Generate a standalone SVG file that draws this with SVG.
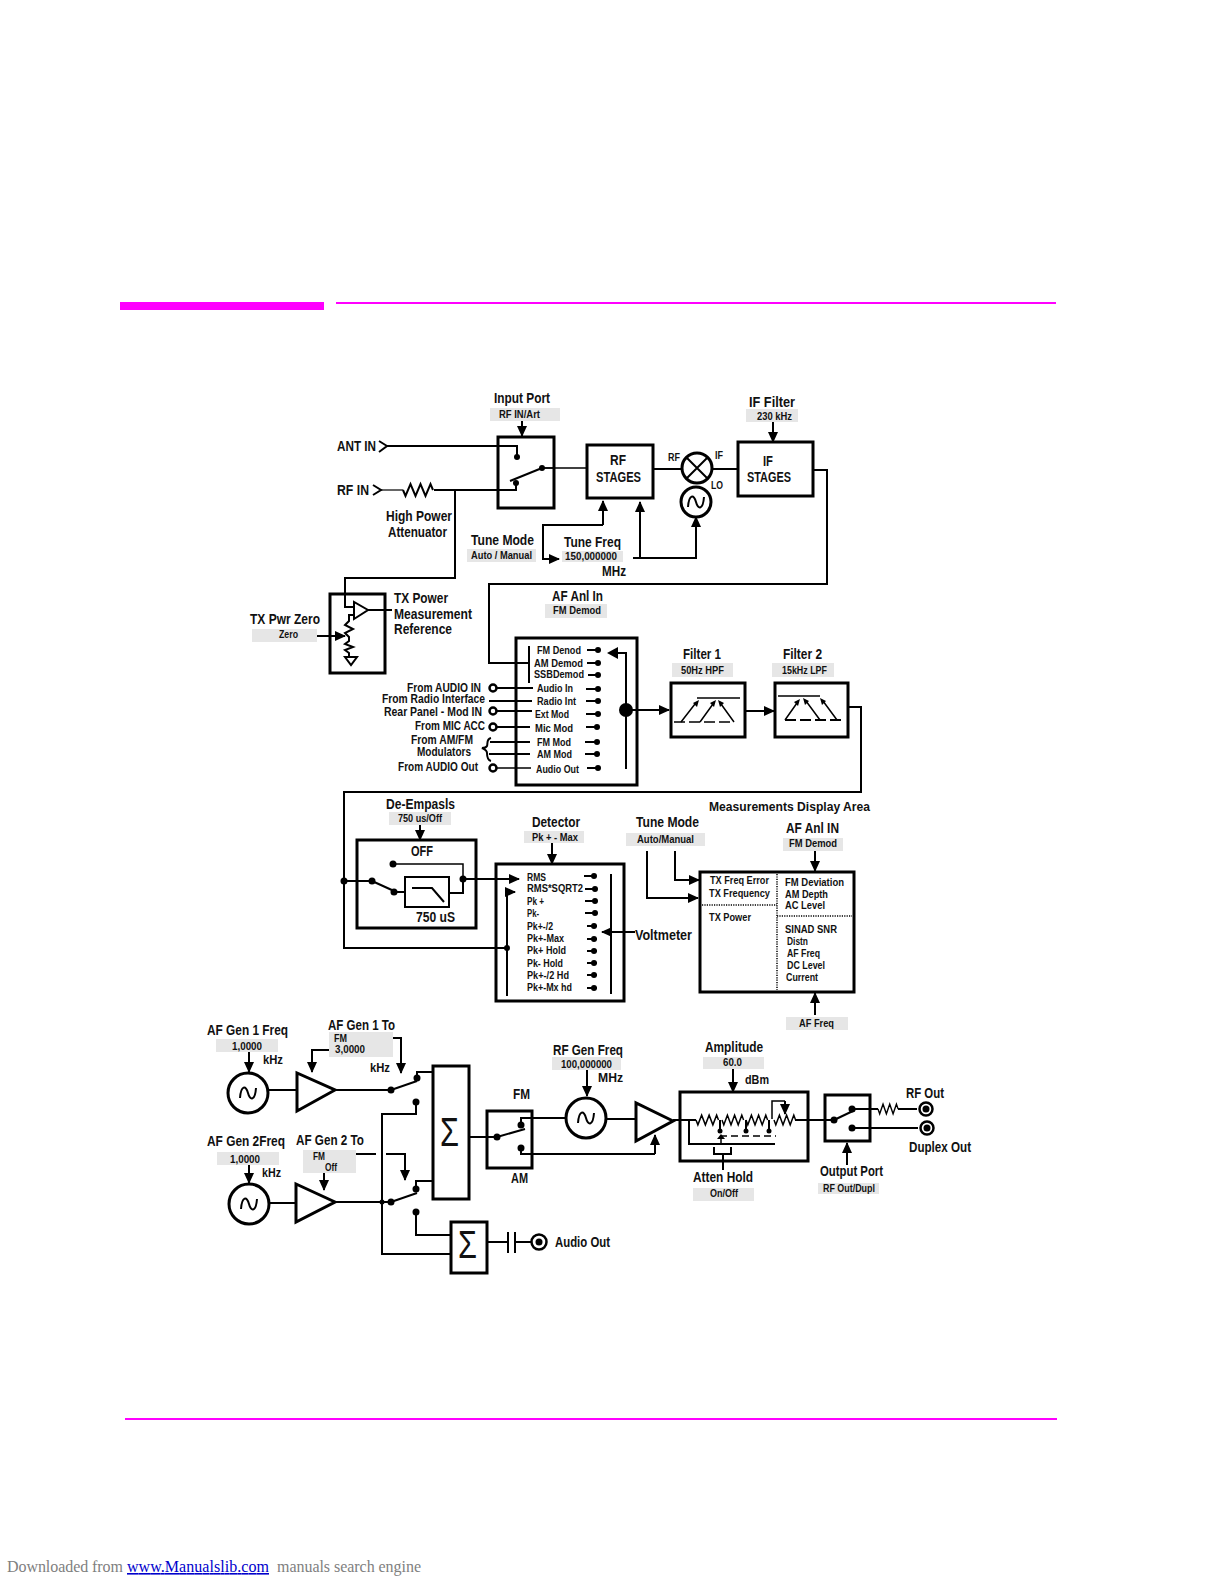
<svg xmlns="http://www.w3.org/2000/svg" xmlns:xlink="http://www.w3.org/1999/xlink" width="1224" height="1584" viewBox="0 0 1224 1584">
<style>
text{font-family:"Liberation Sans",Arial,sans-serif;font-weight:bold;fill:#111}
.h{font-size:14px}
.m{font-size:12px}
.s{font-size:10px}
.t{font-size:10.5px}
.f{font-family:"Liberation Serif","Times New Roman",serif;font-weight:normal;font-size:16px;fill:#808080}
.chip{fill:#e6e6e6;stroke:none}
.box{fill:none;stroke:#000;stroke-width:3}
.w{fill:none;stroke:#000;stroke-width:2}
.w1{fill:none;stroke:#000;stroke-width:1.5}
.a{fill:none;stroke:#000;stroke-width:2;marker-end:url(#ah)}
.dd{fill:none;stroke:#000;stroke-width:1.5;stroke-dasharray:1.2 1.2}
circle{fill:#000}
.o{fill:none;stroke:#000;stroke-width:3}
.tri{fill:#fff;stroke:#000;stroke-width:3;stroke-linejoin:miter}
.j{fill:#fff;stroke:#000;stroke-width:2.5}
</style>
<defs>
<marker id="ah" markerUnits="userSpaceOnUse" markerWidth="12" markerHeight="12" refX="10" refY="5.5" orient="auto"><path d="M0 0.5L11 5.5L0 10.5z" fill="#000"/></marker>
<path id="res" d="M0 0l2.5 6 5-12 5 12 5-12 5 12 5-12 2.5 6" fill="none" stroke="#000" stroke-width="2"/>
<path id="sine" d="M-8 5C-7 -8 -2 -8 0 0C2 8 7 8 8 -5" fill="none" stroke="#000" stroke-width="2"/>
</defs>
<rect width="1224" height="1584" fill="#fff"/>

<g id="page-rules">
<rect x="120" y="302" width="204" height="8" fill="#ff00ff"/>
<rect x="336" y="302" width="720" height="2" fill="#ff00ff"/>
<rect x="125" y="1418" width="932" height="2" fill="#ff00ff"/>
</g>

<g id="connectors">
<path class="w" d="M387 446H517V457"/>
<path class="w" style="stroke:#666" d="M381 490H403"/>
<path class="w" d="M434 490H516V483"/>
<path class="w" d="M455 490V578H345V607H354"/>
<path class="w1" d="M542 468H587"/>
<path class="w" d="M653 469H682"/>
<path class="w" d="M712 469H738"/>
<path class="w" d="M813 470H827V584H489V663H529"/>
<path class="a" d="M522 421V436"/>
<path class="a" d="M773 422V442"/>
<path class="a" d="M603 525V501"/>
<path class="a" d="M603 525H543V559H559"/>
<path class="a" d="M633 558H696V517"/>
<path class="a" d="M640 558V502"/>
<path class="a" d="M317 636H345"/>
<path class="w" d="M368 610H392"/>
<path class="w" d="M493 688H533"/>
<path class="w" d="M489 701H532"/>
<path class="w" d="M493 711H532"/>
<path class="w" d="M493 727H530"/>
<path class="w" d="M490 742H530"/>
<path class="w" d="M489 754H530"/>
<path class="w1" d="M493 768H531"/>
<path class="a" d="M626 710H669"/>
<path class="a" d="M745 711H774"/>
<path class="w" d="M848 707H861V792H344V948H507"/>
<path class="a" d="M507 996V892H515"/>
<path class="w" d="M344 881H372"/>
<path class="a" d="M463 879H519"/>
<path class="a" d="M420 825V840"/>
<path class="a" d="M552 843V864"/>
<path class="a" d="M647 851V898H698"/>
<path class="a" d="M675 851V880H699"/>
<path class="a" d="M815 851V871"/>
<path class="a" d="M815 1015V993"/>
<path class="a" d="M635 932H602"/>
<path class="a" d="M249 1052V1072"/>
<path class="a" d="M329 1050H312V1072"/>
<path class="a" d="M393 1038H401V1073"/>
<path class="w" d="M268 1090H297"/>
<path class="w" d="M335 1090H391"/>
<path class="w" d="M417 1078V1072H433"/>
<path class="w" d="M416 1102V1114H382V1254H451"/>
<path class="a" d="M249 1165V1183"/>
<path class="a" d="M324 1173V1190"/>
<path class="w" d="M353 1154H376"/>
<path class="a" d="M386 1154H405V1180"/>
<path class="w" d="M269 1203H296"/>
<path class="w" d="M335 1202H391"/>
<path class="w" d="M416 1189V1181H433"/>
<path class="w" d="M416 1212V1235H451"/>
<path class="w" d="M487 1242H508"/>
<path class="w" d="M515 1242H531"/>
<path class="w" d="M469 1137H497"/>
<path class="w" d="M521 1125V1118H566"/>
<path class="w" d="M521 1148V1154H655"/>
<path class="a" d="M655 1154V1135"/>
<path class="a" d="M587 1065V1096"/>
<path class="w" d="M606 1119H636"/>
<path class="a" d="M733 1069V1092"/>
<path class="w" d="M673 1120H696"/>
<path class="w" d="M795 1120H834"/>
<path class="a" d="M847 1165V1143"/>
<path class="w" d="M723 1154V1170"/>
<path class="w" d="M852 1109H878"/>
<path class="w" d="M898 1109H917"/>
<path class="w" d="M852 1128H918"/>
</g>

<g id="input-port">
<text class="h" x="494" y="403" textLength="56" lengthAdjust="spacingAndGlyphs">Input Port</text>
<rect class="chip" x="490" y="408" width="70" height="13"/>
<text class="s" x="499" y="418" textLength="41" lengthAdjust="spacingAndGlyphs">RF IN/Art</text>
</g>
<g id="ant-in">
<text class="h" x="337" y="451" textLength="39" lengthAdjust="spacingAndGlyphs">ANT IN</text>
<path class="w" d="M379 441L387 446L379 452"/>
</g>
<g id="rf-in">
<text class="h" x="337" y="495" textLength="32" lengthAdjust="spacingAndGlyphs">RF IN</text>
<path class="w" d="M373 485L381 490L373 495"/>
<use href="#res" xlink:href="#res" transform="translate(403 490)"/>
<text class="h" x="386" y="521" textLength="66" lengthAdjust="spacingAndGlyphs">High Power</text>
<text class="h" x="388" y="537" textLength="59" lengthAdjust="spacingAndGlyphs">Attenuator</text>
</g>
<g id="input-switch">
<rect class="box" x="498" y="437" width="56" height="71"/>
<path class="w" d="M510 481L542 468"/>
<circle cx="517" cy="457" r="3"/><circle cx="516" cy="483" r="3"/><circle cx="542" cy="468" r="3"/>
<path class="w1" d="M542 468H554"/>
</g>
<g id="rf-stages">
<rect class="box" x="587" y="445" width="66" height="53"/>
<text class="h" x="610" y="465" textLength="16" lengthAdjust="spacingAndGlyphs">RF</text>
<text class="h" x="596" y="482" textLength="45" lengthAdjust="spacingAndGlyphs">STAGES</text>
</g>
<g id="mixer">
<text class="s" x="668" y="461" textLength="12" lengthAdjust="spacingAndGlyphs">RF</text>
<text class="s" x="715" y="459" textLength="8" lengthAdjust="spacingAndGlyphs">IF</text>
<text class="s" x="711" y="489" textLength="12" lengthAdjust="spacingAndGlyphs">LO</text>
<circle class="o" cx="697" cy="468" r="15"/>
<path class="w" d="M686 457L708 479M708 457L686 479"/>
<circle class="o" cx="696" cy="502" r="15"/>
<use href="#sine" xlink:href="#sine" transform="translate(696 502)"/>
</g>
<g id="if-stages">
<rect class="box" x="738" y="442" width="75" height="54"/>
<text class="h" x="763" y="466" textLength="10" lengthAdjust="spacingAndGlyphs">IF</text>
<text class="h" x="747" y="482" textLength="44" lengthAdjust="spacingAndGlyphs">STAGES</text>
</g>
<g id="if-filter">
<text class="h" x="749" y="407" textLength="46" lengthAdjust="spacingAndGlyphs">IF Filter</text>
<rect class="chip" x="746" y="409" width="52" height="13"/>
<text class="s" x="757" y="420" textLength="35" lengthAdjust="spacingAndGlyphs">230 kHz</text>
</g>
<g id="tune">
<text class="h" x="471" y="545" textLength="63" lengthAdjust="spacingAndGlyphs">Tune Mode</text>
<rect class="chip" x="467" y="549" width="69" height="13"/>
<text class="s" x="471" y="559" textLength="61" lengthAdjust="spacingAndGlyphs">Auto / Manual</text>
<text class="h" x="564" y="547" textLength="57" lengthAdjust="spacingAndGlyphs">Tune Freq</text>
<rect class="chip" x="562" y="551" width="61" height="11"/>
<text class="s" x="565" y="560" textLength="52" lengthAdjust="spacingAndGlyphs">150,000000</text>
<text class="h" x="602" y="576" textLength="24" lengthAdjust="spacingAndGlyphs">MHz</text>
</g>
<g id="tx-power">
<rect class="box" x="330" y="594" width="55" height="79"/>
<path class="tri" style="stroke-width:2" d="M354 602V619L368 610z"/>
<path class="w" d="M354 615H349V621l-4 4 8 4-8 4 4 4V641l-4 3 8 3-8 3 4 3V657"/>
<path class="w" d="M345 657H357L351 665z"/>
<text class="h" x="394" y="603" textLength="54" lengthAdjust="spacingAndGlyphs">TX Power</text>
<text class="h" x="394" y="619" textLength="78" lengthAdjust="spacingAndGlyphs">Measurement</text>
<text class="h" x="394" y="634" textLength="58" lengthAdjust="spacingAndGlyphs">Reference</text>
<text class="h" x="250" y="624" textLength="70" lengthAdjust="spacingAndGlyphs">TX Pwr Zero</text>
<rect class="chip" x="252" y="629" width="65" height="13"/>
<text class="s" x="279" y="638" textLength="19" lengthAdjust="spacingAndGlyphs">Zero</text>
</g>
<g id="af-anl-in">
<text class="h" x="552" y="601" textLength="51" lengthAdjust="spacingAndGlyphs">AF Anl In</text>
<rect class="chip" x="545" y="604" width="62" height="14"/>
<text class="s" x="553" y="614" textLength="48" lengthAdjust="spacingAndGlyphs">FM Demod</text>
</g>
<g id="source-select">
<rect class="box" x="516" y="638" width="121" height="147"/>
<path class="w" d="M529 646V683"/>
<path class="w" d="M626 769V653H618"/>
<path d="M618 647L607 653L618 659z"/>
<circle cx="626" cy="710" r="7"/>
<text class="t" x="537" y="654" textLength="44" lengthAdjust="spacingAndGlyphs">FM Denod</text>
<text class="t" x="534" y="667" textLength="49" lengthAdjust="spacingAndGlyphs">AM Demod</text>
<text class="t" x="534" y="678" textLength="50" lengthAdjust="spacingAndGlyphs">SSBDemod</text>
<text class="t" x="537" y="692" textLength="36" lengthAdjust="spacingAndGlyphs">Audio In</text>
<text class="t" x="537" y="705" textLength="39" lengthAdjust="spacingAndGlyphs">Radio Int</text>
<text class="t" x="535" y="718" textLength="34" lengthAdjust="spacingAndGlyphs">Ext Mod</text>
<text class="t" x="535" y="732" textLength="38" lengthAdjust="spacingAndGlyphs">Mic Mod</text>
<text class="t" x="537" y="746" textLength="34" lengthAdjust="spacingAndGlyphs">FM Mod</text>
<text class="t" x="537" y="758" textLength="35" lengthAdjust="spacingAndGlyphs">AM Mod</text>
<text class="t" x="536" y="773" textLength="43" lengthAdjust="spacingAndGlyphs">Audio Out</text>
<path class="w" d="M587 650H598M587 663H598M588 675H598M586 689H598M586 701H598M586 714H598M586 727H597M585 742H597M585 754H597M587 768H598"/>
<circle cx="598" cy="650" r="3"/><circle cx="598" cy="663" r="3"/><circle cx="598" cy="675" r="3"/><circle cx="598" cy="689" r="3"/><circle cx="598" cy="701" r="3"/><circle cx="598" cy="714" r="3"/><circle cx="597" cy="727" r="3"/><circle cx="597" cy="742" r="3"/><circle cx="597" cy="754" r="3"/><circle cx="598" cy="768" r="3"/>
</g>
<g id="external-sources">
<text class="m" x="407" y="692" textLength="74" lengthAdjust="spacingAndGlyphs">From AUDIO IN</text>
<text class="m" x="382" y="703" textLength="103" lengthAdjust="spacingAndGlyphs">From Radio Interface</text>
<text class="m" x="384" y="716" textLength="98" lengthAdjust="spacingAndGlyphs">Rear Panel - Mod IN</text>
<text class="m" x="415" y="730" textLength="70" lengthAdjust="spacingAndGlyphs">From MIC ACC</text>
<text class="m" x="411" y="744" textLength="62" lengthAdjust="spacingAndGlyphs">From AM/FM</text>
<text class="m" x="417" y="756" textLength="54" lengthAdjust="spacingAndGlyphs">Modulators</text>
<text class="m" x="398" y="771" textLength="80" lengthAdjust="spacingAndGlyphs">From AUDIO Out</text>
<circle class="j" cx="493" cy="688" r="3.5"/><circle class="j" cx="493" cy="711" r="3.5"/><circle class="j" cx="493" cy="727" r="3.5"/><circle class="j" cx="493" cy="768" r="3.5"/>
<path class="w" d="M491 738C486 739 488 744 487 746C486 748 484 748 482 748C484 749 487 750 487 753C487 756 487 760 491 761"/>
</g>
<g id="filter-1">
<text class="h" x="683" y="659" textLength="38" lengthAdjust="spacingAndGlyphs">Filter 1</text>
<rect class="chip" x="672" y="663" width="61" height="14"/>
<text class="s" x="681" y="674" textLength="43" lengthAdjust="spacingAndGlyphs">50Hz HPF</text>
<rect class="box" x="671" y="683" width="74" height="54"/>
<path class="w1" d="M697 698H740"/>
<path class="w1" stroke-dasharray="11 4" d="M674 722H734"/>
<path class="w1" d="M681 722L695 704M700 722L713 704M734 722L721 704"/>
<path d="M699 700L693 703L697 707z"/><path d="M716 700L710 703L714 707z"/><path d="M718 700L724 703L720 707z"/>
</g>
<g id="filter-2">
<text class="h" x="783" y="659" textLength="39" lengthAdjust="spacingAndGlyphs">Filter 2</text>
<rect class="chip" x="772" y="663" width="62" height="14"/>
<text class="s" x="782" y="674" textLength="45" lengthAdjust="spacingAndGlyphs">15kHz LPF</text>
<rect class="box" x="775" y="683" width="73" height="54"/>
<path class="w1" d="M778 696H820"/>
<path class="w" stroke-dasharray="11 4" d="M785 720H844"/>
<path class="w1" d="M785 720L797 703M820 720L806 701M837 720L823 701"/>
<path d="M800 699L794 702L798 706z"/><path d="M803 698L809 701L805 705z"/><path d="M820 698L826 701L822 705z"/>
</g>
<g id="de-emphasis">
<text class="h" x="386" y="809" textLength="69" lengthAdjust="spacingAndGlyphs">De-Empasls</text>
<rect class="chip" x="389" y="812" width="62" height="13"/>
<text class="s" x="398" y="822" textLength="44" lengthAdjust="spacingAndGlyphs">750 us/Off</text>
<rect class="box" x="357" y="840" width="119" height="88"/>
<text class="h" x="411" y="856" textLength="22" lengthAdjust="spacingAndGlyphs">OFF</text>
<text class="h" x="416" y="922" textLength="39" lengthAdjust="spacingAndGlyphs">750 uS</text>
<rect class="box" x="405" y="877" width="44" height="30" style="stroke-width:2"/>
<path class="w" d="M412 888H432L444 902"/>
<path class="w" d="M372 881L394 891V892H405"/>
<path class="w" d="M449 893H463V879"/>
<path class="w1" d="M393 864H463V879"/>
<circle cx="344" cy="881" r="3.5"/><circle cx="372" cy="881" r="3.5"/><circle cx="394" cy="892" r="3.5"/><circle cx="393" cy="864" r="3.5"/><circle cx="463" cy="879" r="3.5"/>
</g>
<g id="detector">
<text class="h" x="532" y="827" textLength="48" lengthAdjust="spacingAndGlyphs">Detector</text>
<rect class="chip" x="524" y="831" width="60" height="12"/>
<text class="s" x="532" y="841" textLength="46" lengthAdjust="spacingAndGlyphs">Pk + -  Max</text>
<rect class="box" x="496" y="864" width="128" height="137"/>
<circle cx="507" cy="948" r="3"/>
<path class="w" d="M611 874V994"/>
<text class="s" x="527" y="881" textLength="19" lengthAdjust="spacingAndGlyphs">RMS</text>
<text class="s" x="527" y="892" textLength="56" lengthAdjust="spacingAndGlyphs">RMS*SQRT2</text>
<text class="s" x="527" y="905" textLength="17" lengthAdjust="spacingAndGlyphs">Pk +</text>
<text class="s" x="527" y="917" textLength="12" lengthAdjust="spacingAndGlyphs">Pk-</text>
<text class="s" x="527" y="930" textLength="26" lengthAdjust="spacingAndGlyphs">Pk+-/2</text>
<text class="s" x="527" y="942" textLength="37" lengthAdjust="spacingAndGlyphs">Pk+-Max</text>
<text class="s" x="527" y="954" textLength="39" lengthAdjust="spacingAndGlyphs">Pk+ Hold</text>
<text class="s" x="527" y="967" textLength="36" lengthAdjust="spacingAndGlyphs">Pk- Hold</text>
<text class="s" x="527" y="979" textLength="42" lengthAdjust="spacingAndGlyphs">Pk+-/2 Hd</text>
<text class="s" x="527" y="991" textLength="45" lengthAdjust="spacingAndGlyphs">Pk+-Mx hd</text>
<path class="w" d="M584 876H594M585 889H595M585 901H595M585 913H595M587 926H597M587 939H597M587 951H597M587 963H597M587 975H597M587 988H597"/>
<circle cx="594" cy="876" r="3"/><circle cx="595" cy="889" r="3"/><circle cx="595" cy="901" r="3"/><circle cx="595" cy="913" r="3"/><circle cx="594" cy="926" r="3"/><circle cx="594" cy="939" r="3"/><circle cx="594" cy="951" r="3"/><circle cx="594" cy="963" r="3"/><circle cx="594" cy="975" r="3"/><circle cx="594" cy="988" r="3"/>
<text class="h" x="635" y="940" textLength="57" lengthAdjust="spacingAndGlyphs">Voltmeter</text>
</g>
<g id="measurements">
<text class="m" x="709" y="811" textLength="161" lengthAdjust="spacingAndGlyphs">Measurements Display Area</text>
<text class="h" x="636" y="827" textLength="63" lengthAdjust="spacingAndGlyphs">Tune Mode</text>
<rect class="chip" x="626" y="833" width="79" height="13"/>
<text class="s" x="637" y="843" textLength="57" lengthAdjust="spacingAndGlyphs">Auto/Manual</text>
<text class="h" x="786" y="833" textLength="53" lengthAdjust="spacingAndGlyphs">AF Anl IN</text>
<rect class="chip" x="783" y="838" width="60" height="13"/>
<text class="s" x="789" y="847" textLength="48" lengthAdjust="spacingAndGlyphs">FM Demod</text>
<rect class="box" x="700" y="872" width="154" height="120"/>
<path class="dd" d="M777 874V990"/>
<path class="dd" d="M702 905H777"/>
<path class="dd" d="M777 916H852"/>
<text class="s" x="710" y="884" textLength="59" lengthAdjust="spacingAndGlyphs">TX Freq Error</text>
<text class="s" x="709" y="897" textLength="61" lengthAdjust="spacingAndGlyphs">TX Frequency</text>
<text class="s" x="709" y="921" textLength="42" lengthAdjust="spacingAndGlyphs">TX Power</text>
<text class="s" x="785" y="886" textLength="59" lengthAdjust="spacingAndGlyphs">FM Deviation</text>
<text class="s" x="785" y="898" textLength="43" lengthAdjust="spacingAndGlyphs">AM Depth</text>
<text class="s" x="785" y="909" textLength="40" lengthAdjust="spacingAndGlyphs">AC Level</text>
<text class="s" x="785" y="933" textLength="52" lengthAdjust="spacingAndGlyphs">SINAD SNR</text>
<text class="s" x="787" y="945" textLength="21" lengthAdjust="spacingAndGlyphs">Distn</text>
<text class="s" x="787" y="957" textLength="33" lengthAdjust="spacingAndGlyphs">AF Freq</text>
<text class="s" x="787" y="969" textLength="38" lengthAdjust="spacingAndGlyphs">DC Level</text>
<text class="s" x="786" y="981" textLength="32" lengthAdjust="spacingAndGlyphs">Current</text>
<rect class="chip" x="786" y="1017" width="62" height="13"/>
<text class="s" x="799" y="1027" textLength="35" lengthAdjust="spacingAndGlyphs">AF Freq</text>
</g>
<g id="af-gen-1">
<text class="h" x="207" y="1035" textLength="81" lengthAdjust="spacingAndGlyphs">AF Gen 1 Freq</text>
<rect class="chip" x="216" y="1039" width="62" height="13"/>
<text class="s" x="232" y="1050" textLength="30" lengthAdjust="spacingAndGlyphs">1,0000</text>
<text class="m" x="263" y="1064" textLength="20" lengthAdjust="spacingAndGlyphs">kHz</text>
<circle class="o" cx="248" cy="1093" r="20"/>
<use href="#sine" xlink:href="#sine" transform="translate(248 1093)"/>
<text class="h" x="328" y="1030" textLength="67" lengthAdjust="spacingAndGlyphs">AF Gen 1 To</text>
<rect class="chip" x="329" y="1032" width="64" height="25"/>
<text class="s" x="334" y="1042" textLength="13" lengthAdjust="spacingAndGlyphs">FM</text>
<text class="s" x="335" y="1053" textLength="30" lengthAdjust="spacingAndGlyphs">3,0000</text>
<text class="m" x="370" y="1072" textLength="20" lengthAdjust="spacingAndGlyphs">kHz</text>
<path class="tri" d="M297 1073V1111L335 1090z"/>
<path class="w" d="M391 1090L417 1081"/>
<circle cx="391" cy="1090" r="3.5"/><circle cx="417" cy="1078" r="3.5"/><circle cx="416" cy="1102" r="3.5"/>
</g>
<g id="af-gen-2">
<text class="h" x="207" y="1146" textLength="78" lengthAdjust="spacingAndGlyphs">AF Gen 2Freq</text>
<rect class="chip" x="217" y="1152" width="62" height="13"/>
<text class="s" x="230" y="1163" textLength="30" lengthAdjust="spacingAndGlyphs">1,0000</text>
<text class="m" x="262" y="1177" textLength="19" lengthAdjust="spacingAndGlyphs">kHz</text>
<circle class="o" cx="249" cy="1204" r="20"/>
<use href="#sine" xlink:href="#sine" transform="translate(249 1204)"/>
<text class="h" x="296" y="1145" textLength="68" lengthAdjust="spacingAndGlyphs">AF Gen 2 To</text>
<rect class="chip" x="303" y="1150" width="53" height="23"/>
<text class="s" x="313" y="1160" textLength="12" lengthAdjust="spacingAndGlyphs">FM</text>
<text class="s" x="325" y="1171" textLength="12" lengthAdjust="spacingAndGlyphs">Off</text>
<path class="tri" d="M296 1184V1222L335 1202z"/>
<path class="w" d="M391 1202L417 1193"/>
<circle cx="382" cy="1202" r="2.5"/><circle cx="391" cy="1202" r="3.5"/><circle cx="416" cy="1189" r="3.5"/><circle cx="416" cy="1212" r="3.5"/>
</g>
<g id="sum-1">
<rect class="box" x="433" y="1066" width="36" height="133"/>
<text x="440" y="1146" style="font-size:40px;font-weight:normal" textLength="19" lengthAdjust="spacingAndGlyphs">Σ</text>
</g>
<g id="sum-2">
<rect class="box" x="451" y="1222" width="36" height="51"/>
<text x="458" y="1258" style="font-size:38px;font-weight:normal" textLength="19" lengthAdjust="spacingAndGlyphs">Σ</text>
</g>
<g id="audio-out">
<path class="w" d="M508 1232V1253M515 1232V1253"/>
<circle class="j" cx="539" cy="1242" r="7.5"/><circle cx="539" cy="1242" r="3.5"/>
<text class="h" x="555" y="1247" textLength="55" lengthAdjust="spacingAndGlyphs">Audio Out</text>
</g>
<g id="fm-am-switch">
<rect class="box" x="487" y="1111" width="45" height="57"/>
<text class="h" x="513" y="1099" textLength="17" lengthAdjust="spacingAndGlyphs">FM</text>
<text class="h" x="511" y="1183" textLength="17" lengthAdjust="spacingAndGlyphs">AM</text>
<path class="w" d="M497 1137L525 1129"/>
<circle cx="497" cy="1137" r="3.5"/><circle cx="521" cy="1125" r="3.5"/><circle cx="521" cy="1148" r="3.5"/>
</g>
<g id="rf-gen">
<text class="h" x="553" y="1055" textLength="70" lengthAdjust="spacingAndGlyphs">RF Gen Freq</text>
<rect class="chip" x="552" y="1057" width="69" height="13"/>
<text class="s" x="561" y="1068" textLength="51" lengthAdjust="spacingAndGlyphs">100,000000</text>
<text class="m" x="598" y="1082" textLength="25" lengthAdjust="spacingAndGlyphs">MHz</text>
<circle class="o" cx="586" cy="1118" r="20"/>
<use href="#sine" xlink:href="#sine" transform="translate(586 1118)"/>
<path class="tri" d="M636 1103V1141L673 1121z"/>
</g>
<g id="attenuator">
<text class="h" x="705" y="1052" textLength="58" lengthAdjust="spacingAndGlyphs">Amplitude</text>
<rect class="chip" x="703" y="1057" width="61" height="12"/>
<text class="s" x="723" y="1066" textLength="19" lengthAdjust="spacingAndGlyphs">60.0</text>
<text class="m" x="745" y="1084" textLength="24" lengthAdjust="spacingAndGlyphs">dBm</text>
<rect class="box" x="680" y="1092" width="128" height="69"/>
<use href="#res" xlink:href="#res" transform="translate(696 1120) scale(.75 .8)"/>
<use href="#res" xlink:href="#res" transform="translate(722 1120) scale(.72 .8)"/>
<use href="#res" xlink:href="#res" transform="translate(746 1120) scale(.72 .8)"/>
<use href="#res" xlink:href="#res" transform="translate(774 1120) scale(.72 .8)"/>
<path class="w" d="M720 1120V1131M746 1120V1131M769 1120V1131"/>
<circle cx="720" cy="1131" r="2.5"/><circle cx="746" cy="1131" r="2.5"/><circle cx="769" cy="1131" r="2.5"/>
<path class="w1" d="M772 1119V1101H785"/>
<path class="a" d="M785 1101V1114"/>
<path class="w" d="M689 1120V1144H775"/>
<path class="w1" stroke-dasharray="7 4" d="M720 1136H776"/>
<path class="w1" d="M721 1144V1137"/>
<path d="M717 1139L721 1134L725 1139z"/>
<path class="w" d="M714 1147V1154H731V1147"/>
<text class="h" x="693" y="1182" textLength="60" lengthAdjust="spacingAndGlyphs">Atten Hold</text>
<rect class="chip" x="693" y="1188" width="61" height="13"/>
<text class="s" x="710" y="1197" textLength="28" lengthAdjust="spacingAndGlyphs">On/Off</text>
</g>
<g id="output-port">
<rect class="box" x="825" y="1095" width="45" height="46"/>
<path class="w" d="M834 1120L855 1110"/>
<circle cx="834" cy="1120" r="3.5"/><circle cx="852" cy="1109" r="3.5"/><circle cx="852" cy="1128" r="3.5"/>
<use href="#res" xlink:href="#res" transform="translate(878 1109) scale(.67 .8)"/>
<circle class="j" cx="926" cy="1109" r="6.5"/><circle cx="926" cy="1109" r="3.5"/>
<circle class="j" cx="927" cy="1128" r="6.5"/><circle cx="927" cy="1128" r="3.5"/>
<text class="h" x="906" y="1098" textLength="38" lengthAdjust="spacingAndGlyphs">RF Out</text>
<text class="h" x="909" y="1152" textLength="62" lengthAdjust="spacingAndGlyphs">Duplex Out</text>
<text class="h" x="820" y="1176" textLength="63" lengthAdjust="spacingAndGlyphs">Output Port</text>
<rect class="chip" x="818" y="1183" width="61" height="11"/>
<text class="s" x="823" y="1192" textLength="52" lengthAdjust="spacingAndGlyphs">RF Out/Dupl</text>
</g>
<g id="footer">
<text class="f" x="7" y="1572" textLength="116">Downloaded from</text>
<text class="f" x="127" y="1572" textLength="142" style="fill:#0000cc" text-decoration="underline">www.Manualslib.com</text>
<text class="f" x="277" y="1572" textLength="144">manuals search engine</text>
</g>
</svg>
